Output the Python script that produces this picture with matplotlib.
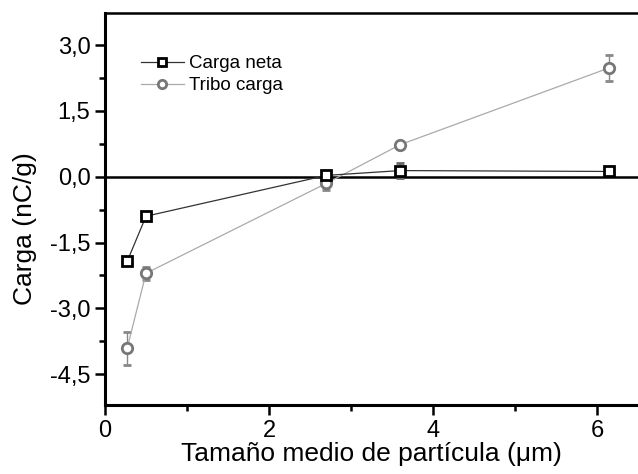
import matplotlib
matplotlib.use("Agg")
import matplotlib.pyplot as plt
from matplotlib.lines import Line2D
from matplotlib.ticker import MultipleLocator, FuncFormatter

plt.rcParams["font.family"] = ["Liberation Sans", "DejaVu Sans"]

# data
size_um = [0.27, 0.5, 2.7, 3.6, 6.15]
neta = [-1.93, -0.9, 0.03, 0.14, 0.12]
neta_err = [0.05, 0.08, 0.05, 0.18, 0.05]
tribo = [-3.91, -2.2, -0.15, 0.73, 2.48]
tribo_err = [0.37, 0.15, 0.15, 0.05, 0.3]

fig = plt.figure(figsize=(6.38, 4.74), dpi=100)
ax = fig.add_axes([0.1646, 0.1456, 0.8354, 0.827])

neta_style = dict(color="#333333", lw=0.9, marker="s", ms=6.5, mfc="white", mec="black", mew=2)
tribo_style = dict(color="#aaaaaa", lw=0.9, marker="o", ms=7.5, mfc="white", mec="#777777", mew=2)

ax.errorbar(size_um, neta, yerr=neta_err, ecolor="#666666", elinewidth=1, capsize=3,
            zorder=4, **neta_style)
ax.errorbar(size_um, tribo, yerr=tribo_err, ecolor="#888888", elinewidth=1, capsize=3,
            zorder=3, **tribo_style)

ax.axhline(0, color="black", lw=1.8, zorder=2)

ax.set_xlim(0, 6.5)
ax.set_ylim(-5.2, 3.73)
ax.xaxis.set_major_locator(MultipleLocator(2))
ax.xaxis.set_minor_locator(MultipleLocator(1))
ax.yaxis.set_major_locator(MultipleLocator(1.5))
ax.yaxis.set_minor_locator(MultipleLocator(0.75))
ax.yaxis.set_major_formatter(FuncFormatter(lambda v, p: f"{v:.1f}".replace(".", ",")))

ax.tick_params(which="major", direction="out", length=7, width=1.8, labelsize=17)
ax.tick_params(which="minor", direction="out", length=4, width=1.8)
ax.spines["right"].set_visible(False)
ax.spines["left"].set_linewidth(2.2)
ax.spines["bottom"].set_linewidth(2.2)
ax.spines["top"].set_linewidth(1.8)

ax.set_xlabel("Tamaño medio de partícula (μm)", fontsize=19, labelpad=0)
ax.set_ylabel("Carga (nC/g)", fontsize=19)
ax.yaxis.set_label_coords(-0.128, 0.45)

handles = [Line2D([], [], **{**neta_style, "ms": 5.5}),
           Line2D([], [], **{**tribo_style, "ms": 6})]
ax.legend(handles, ["Carga neta", "Tribo carga"], loc="upper left",
          bbox_to_anchor=(0.035, 0.935), frameon=False,
          fontsize=13.5, handlelength=2.3, handletextpad=0.3, labelspacing=0.25)

fig.savefig("out.png", dpi=100)
